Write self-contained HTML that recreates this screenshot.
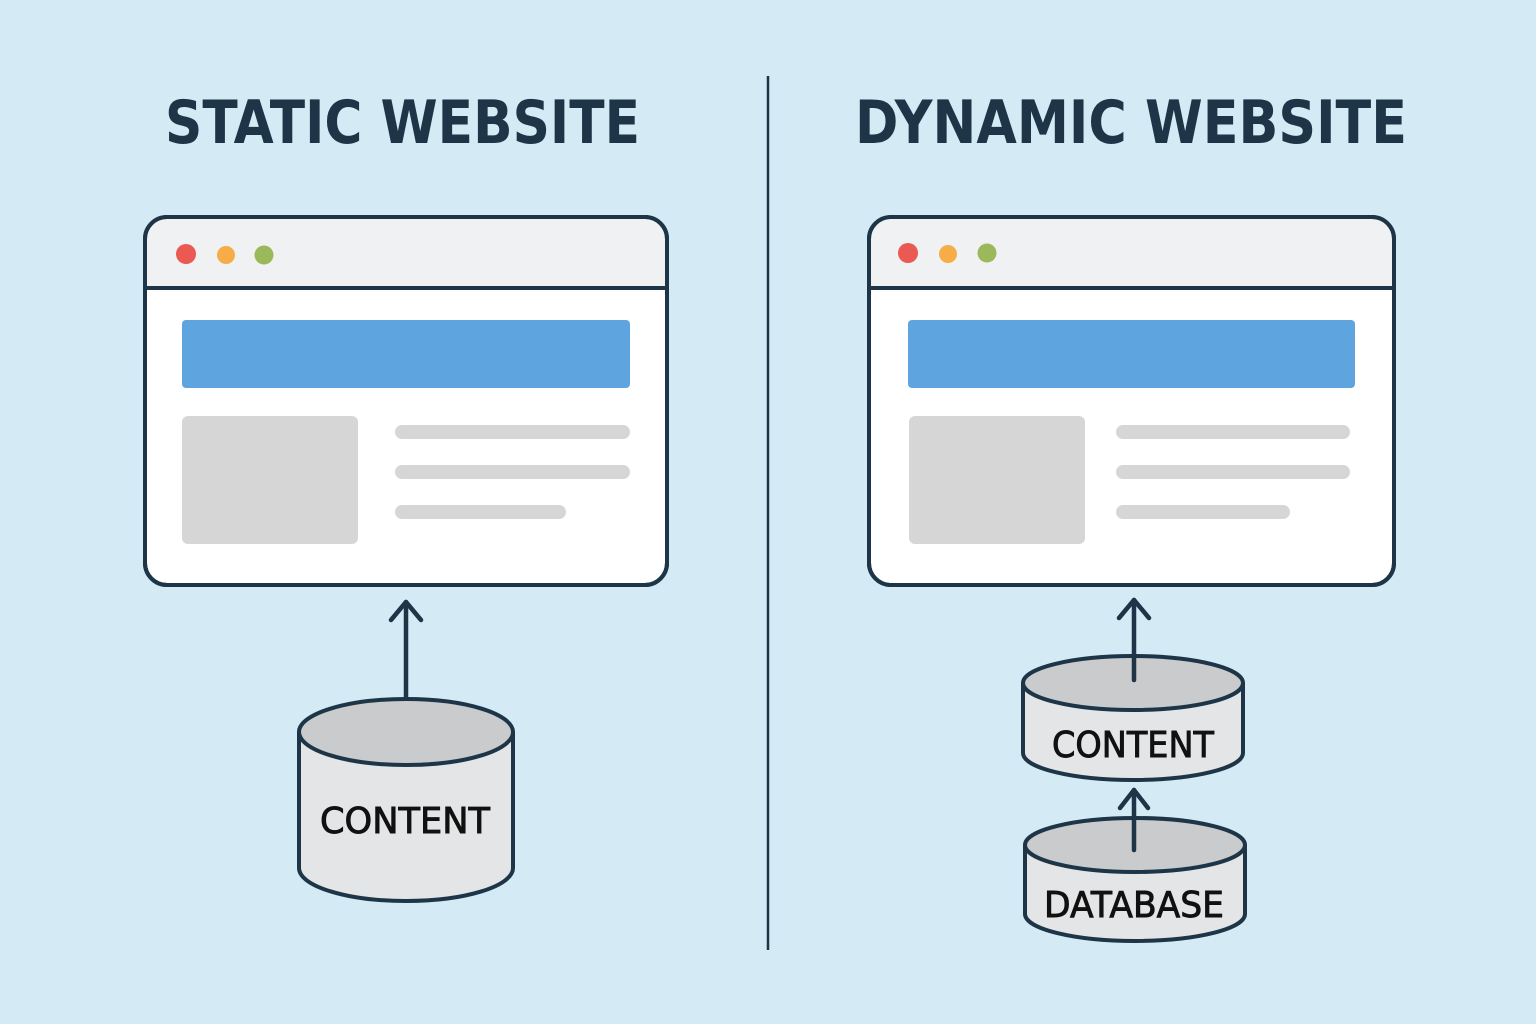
<!DOCTYPE html>
<html><head><meta charset="utf-8"><style>html,body{margin:0;padding:0;background:#d4ebf5}svg{display:block}</style></head>
<body>
<svg width="1536" height="1024" viewBox="0 0 1536 1024" xmlns="http://www.w3.org/2000/svg" font-family="'DejaVu Sans','Liberation Sans',sans-serif">
<rect width="1536" height="1024" fill="#d4ebf5"/>
<g fill="#1d3547" font-weight="bold">
<text x="165" y="143" font-size="60" textLength="475" lengthAdjust="spacingAndGlyphs">STATIC WEBSITE</text>
<text x="855" y="143" font-size="60" textLength="552" lengthAdjust="spacingAndGlyphs">DYNAMIC WEBSITE</text>
</g>
<line x1="768" y1="76" x2="768" y2="950" stroke="#1d3547" stroke-width="2.5"/>
<g stroke="#1d3547" stroke-width="4">
<rect x="145" y="217" width="522" height="368" rx="22" fill="#fff"/>
<path d="M147 288 V239 a20 20 0 0 1 20 -20 H645 a20 20 0 0 1 20 20 V288 Z" fill="#f0f1f3" stroke="none"/>
<line x1="145" y1="288" x2="667" y2="288"/>
<rect x="145" y="217" width="522" height="368" rx="22" fill="none"/>
<rect x="869" y="217" width="525" height="368" rx="22" fill="#fff"/>
<path d="M871 288 V239 a20 20 0 0 1 20 -20 H1372 a20 20 0 0 1 20 20 V288 Z" fill="#f0f1f3" stroke="none"/>
<line x1="869" y1="288" x2="1394" y2="288"/>
<rect x="869" y="217" width="525" height="368" rx="22" fill="none"/>
</g>
<circle cx="186" cy="254" r="10" fill="#ea5a52"/><circle cx="226" cy="255" r="9" fill="#f7ad47"/><circle cx="264" cy="255" r="9.5" fill="#9bb95a"/>
<circle cx="908" cy="253" r="10" fill="#ea5a52"/><circle cx="948" cy="254" r="9" fill="#f7ad47"/><circle cx="987" cy="253" r="9.5" fill="#9bb95a"/>
<rect x="182" y="320" width="448" height="68" rx="4" fill="#5ea5e0"/>
<rect x="182" y="416" width="176" height="128" rx="6" fill="#d6d6d6"/>
<g stroke="#d6d6d6" stroke-width="14" stroke-linecap="round">
<line x1="402" y1="432" x2="623" y2="432"/><line x1="402" y1="472" x2="623" y2="472"/><line x1="402" y1="512" x2="559" y2="512"/>
<line x1="1123" y1="432" x2="1343" y2="432"/><line x1="1123" y1="472" x2="1343" y2="472"/><line x1="1123" y1="512" x2="1283" y2="512"/>
</g>
<rect x="908" y="320" width="447" height="68" rx="4" fill="#5ea5e0"/>
<rect x="909" y="416" width="176" height="128" rx="6" fill="#d6d6d6"/>
<g stroke="#1d3547" stroke-width="4">
<path d="M299 732 V868 A107 33 0 0 0 513 868 V732" fill="#e4e5e7"/>
<ellipse cx="406" cy="732" rx="107" ry="33" fill="#c9cbcd"/>
<path d="M1023 683 V753 A110 27 0 0 0 1243 753 V683" fill="#e4e5e7"/>
<ellipse cx="1133" cy="683" rx="110" ry="27" fill="#c9cbcd"/>
<path d="M1025 845 V914 A110 27 0 0 0 1245 914 V845" fill="#e4e5e7"/>
<ellipse cx="1135" cy="845" rx="110" ry="27" fill="#c9cbcd"/>
</g>
<g stroke="#1d3547" stroke-width="4.5" fill="none" stroke-linecap="round" stroke-linejoin="round">
<line x1="406" y1="698" x2="406" y2="602"/><polyline points="391,620 406,602 421,620"/>
<line x1="1134" y1="680" x2="1134" y2="600"/><polyline points="1119,618 1134,600 1149,618"/>
<line x1="1134" y1="850" x2="1134" y2="790"/><polyline points="1120,808 1134,790 1148,808"/>
</g>
<g fill="#111" font-size="36" stroke="#111" stroke-width="0.9">
<text x="320" y="833" textLength="170" lengthAdjust="spacingAndGlyphs">CONTENT</text>
<text x="1052" y="757" textLength="162" lengthAdjust="spacingAndGlyphs">CONTENT</text>
<text x="1044" y="917" textLength="180" lengthAdjust="spacingAndGlyphs">DATABASE</text>
</g>
</svg>
</body></html>
